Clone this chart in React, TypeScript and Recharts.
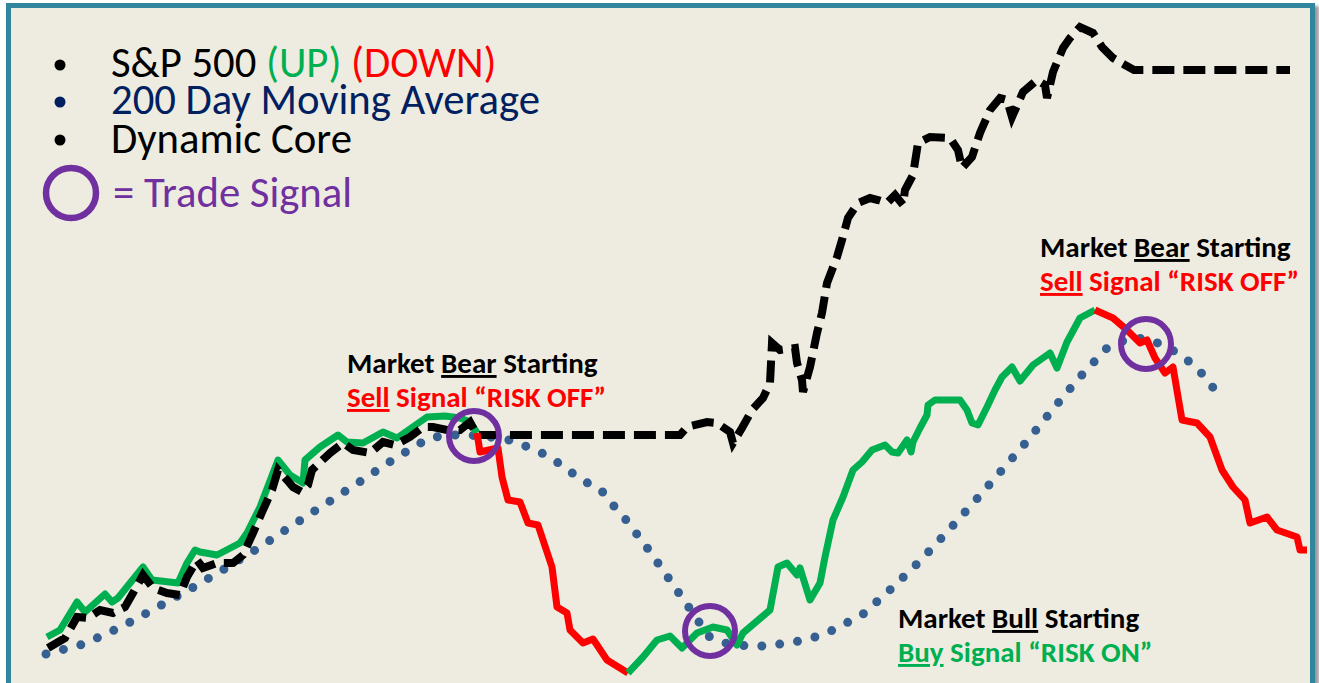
import React from 'react';
import { LineChart, Line, XAxis, YAxis, ReferenceDot } from 'recharts';

// x = trading day index, y = index level (arbitrary units)
type Pt = { d: number; v: number };
const toPts = (arr: number[][]): Pt[] => arr.map(([d, v]) => ({ d, v }));

const spUp1 = [
  [47, 46], [60, 53], [77, 81], [85, 71], [105, 89], [112, 81], [118, 85], [143, 116],
  [152, 103], [178, 100], [187, 120], [195, 133], [200, 131], [217, 128], [240, 140],
  [247, 150], [260, 176], [278, 223], [290, 208], [303, 200], [305, 223], [320, 236],
  [338, 248], [347, 241], [363, 240], [383, 251], [397, 245], [427, 266], [445, 267],
  [460, 265], [470, 261], [477, 250],
];
const spDown1 = [
  [477, 250], [480, 231], [498, 235], [502, 206], [508, 183], [520, 181], [528, 160],
  [538, 158], [552, 116], [557, 76], [567, 70], [570, 53], [583, 40], [593, 44],
  [607, 23], [628, 10],
];
const spUp2 = [
  [628, 10], [643, 26], [657, 43], [670, 47], [682, 35], [697, 50], [713, 56], [727, 53],
  [737, 38], [743, 50], [770, 73], [778, 116], [787, 120], [797, 108], [800, 115],
  [810, 83], [820, 100], [825, 126], [833, 163], [843, 186], [853, 213], [862, 221],
  [872, 233], [885, 238], [892, 231], [898, 230], [907, 243], [911, 231], [913, 241],
  [920, 255], [927, 268], [928, 278], [935, 283], [960, 283], [967, 273], [972, 260],
  [978, 258], [987, 276], [995, 293], [1002, 306], [1012, 316], [1020, 302], [1033, 318],
  [1050, 330], [1057, 315], [1067, 341], [1080, 365], [1095, 373],
];
const spDown2 = [
  [1095, 373], [1113, 365], [1127, 353], [1140, 340], [1147, 343], [1155, 325],
  [1165, 310], [1173, 316], [1182, 263], [1197, 260], [1210, 246], [1222, 213],
  [1233, 196], [1245, 183], [1250, 160], [1267, 166], [1277, 153], [1297, 146],
  [1300, 133], [1307, 133],
];
const dynamicCore = [
  [48, 35], [65, 45], [77, 66], [88, 65], [100, 73], [113, 70], [125, 76], [133, 90],
  [143, 108], [153, 95], [167, 90], [180, 88], [187, 106], [197, 123], [203, 115],
  [217, 120], [233, 120], [243, 128], [253, 150], [263, 173], [272, 193], [278, 213],
  [287, 203], [293, 196], [302, 191], [308, 198], [312, 213], [330, 230], [343, 240],
  [353, 233], [370, 230], [383, 241], [395, 238], [410, 246], [423, 256], [433, 256],
  [447, 253], [460, 253], [470, 261], [477, 248], [680, 248], [687, 256], [707, 261],
  [717, 260], [730, 251], [733, 240], [742, 255], [752, 273], [763, 285], [770, 300],
  [772, 340], [780, 333], [795, 335], [797, 320], [802, 303], [803, 291], [810, 316],
  [817, 350], [822, 370], [827, 400], [837, 426], [842, 443], [848, 465], [858, 480],
  [870, 485], [878, 483], [887, 480], [895, 488], [903, 478], [905, 493], [913, 508],
  [918, 540], [930, 546], [950, 545], [958, 533], [962, 515], [972, 526], [980, 550],
  [990, 573], [1000, 585], [1007, 583], [1012, 566], [1023, 591], [1037, 603],
  [1045, 598], [1047, 585], [1053, 611], [1063, 635], [1070, 645], [1080, 656],
  [1093, 650], [1102, 636], [1113, 625], [1125, 618], [1134, 613], [1290, 613],
];
const movingAvg = [
  [46, 29], [84, 39], [121, 56], [156, 75], [192, 95], [226, 115], [260, 136], [293, 158],
  [327, 180], [361, 202], [394, 224], [429, 245], [450, 248], [469, 248], [490, 246],
  [509, 243], [528, 236], [546, 228], [563, 217], [580, 204], [601, 193], [613, 178],
  [627, 162], [651, 130], [674, 97], [697, 64], [708, 47], [725, 40], [747, 37],
  [767, 37], [787, 40], [806, 43], [827, 50], [862, 68], [892, 95], [921, 123],
  [948, 152], [975, 182], [1002, 213], [1028, 243], [1053, 274], [1079, 305],
  [1107, 335], [1125, 343], [1144, 345], [1163, 338], [1181, 328], [1197, 315],
  [1210, 300], [1221, 283],
];
// trade signals (day, level)
const signals = [[474, 247], [710, 52], [1146, 339]];

const W = 1319;
const H = 683;
const GREEN = '#00B050';
const RED = '#FF0000';
const PURPLE = '#7030A0';
const NAVY = '#002060';
const DOTS = '#376092';
const FONT = 'Carlito, Lato, "Open Sans", sans-serif';

export default function App() {
  return (
    <div style={{ position: 'fixed', left: 0, top: 0, width: W, height: H, background: '#fff', overflow: 'hidden' }}>
      <div
        style={{
          position: 'absolute', left: 6, top: 3, width: 1299, height: 720,
          border: '5px solid #31859C', background: '#EEECE1',
          boxShadow: '4px 3px 3px rgba(0,0,0,0.4)',
        }}
      />
      <div style={{ position: 'absolute', left: 0, top: 0 }}>
        <LineChart width={W} height={H} margin={{ top: 0, right: 0, bottom: 0, left: 0 }}>
          <XAxis type="number" dataKey="d" domain={[0, W]} hide allowDataOverflow />
          <YAxis type="number" dataKey="v" domain={[0, H]} hide allowDataOverflow />
          <Line data={toPts(movingAvg)} dataKey="v" stroke={DOTS} strokeWidth={9}
            strokeDasharray="0 18" strokeLinecap="round" dot={false} isAnimationActive={false} type="linear" />
          <Line data={toPts(spUp1)} dataKey="v" stroke={GREEN} strokeWidth={7} strokeLinejoin="round"
            dot={false} isAnimationActive={false} type="linear" />
          <Line data={toPts(dynamicCore)} dataKey="v" stroke="#000" strokeWidth={8}
            strokeDasharray="22 9" dot={false} isAnimationActive={false} type="linear" />
          <Line data={toPts(spDown1)} dataKey="v" stroke={RED} strokeWidth={7} strokeLinejoin="round"
            dot={false} isAnimationActive={false} type="linear" />
          <Line data={toPts(spUp2)} dataKey="v" stroke={GREEN} strokeWidth={7} strokeLinejoin="round"
            dot={false} isAnimationActive={false} type="linear" />
          <Line data={toPts(spDown2)} dataKey="v" stroke={RED} strokeWidth={7} strokeLinejoin="round"
            dot={false} isAnimationActive={false} type="linear" />
          {signals.map(([d, v]) => (
            <ReferenceDot key={d} x={d} y={v} r={25} fill="none" stroke={PURPLE} strokeWidth={6} />
          ))}
        </LineChart>
      </div>
      <svg width={W} height={H} style={{ position: 'absolute', left: 0, top: 0, fontFamily: FONT }}>
        <circle cx={60} cy={65} r={5.5} fill="#000" />
        <circle cx={60} cy={102} r={5.5} fill={NAVY} />
        <circle cx={60} cy={140} r={5.5} fill="#000" />
        <g fontSize={42.7}>
          <text x={111} y={77} fill="#000">
            S&amp;P 500 <tspan fill={GREEN}>(UP)</tspan> <tspan fill={RED}>(DOWN)</tspan>
          </text>
          <text x={111} y={114} fill={NAVY}>200 Day Moving Average</text>
          <text x={111} y={153} fill="#000">Dynamic Core</text>
          <circle cx={71} cy={193} r={25} fill="none" stroke={PURPLE} strokeWidth={6.5} />
          <text x={113} y={207} fill={PURPLE}>= Trade Signal</text>
        </g>
        <g fontSize={29} fontWeight="bold">
          <text x={347} y={373} fill="#000">
            Market <tspan textDecoration="underline">Bear</tspan> Starting
          </text>
          <text x={347} y={407} fill={RED}>
            <tspan textDecoration="underline">Sell</tspan> Signal “RISK OFF”
          </text>
          <text x={1040} y={257} fill="#000">
            Market <tspan textDecoration="underline">Bear</tspan> Starting
          </text>
          <text x={1040} y={291} fill={RED}>
            <tspan textDecoration="underline">Sell</tspan> Signal “RISK OFF”
          </text>
          <text x={898} y={628} fill="#000">
            Market <tspan textDecoration="underline">Bull</tspan> Starting
          </text>
          <text x={898} y={662} fill={GREEN}>
            <tspan textDecoration="underline">Buy</tspan> Signal “RISK ON”
          </text>
        </g>
      </svg>
    </div>
  );
}
